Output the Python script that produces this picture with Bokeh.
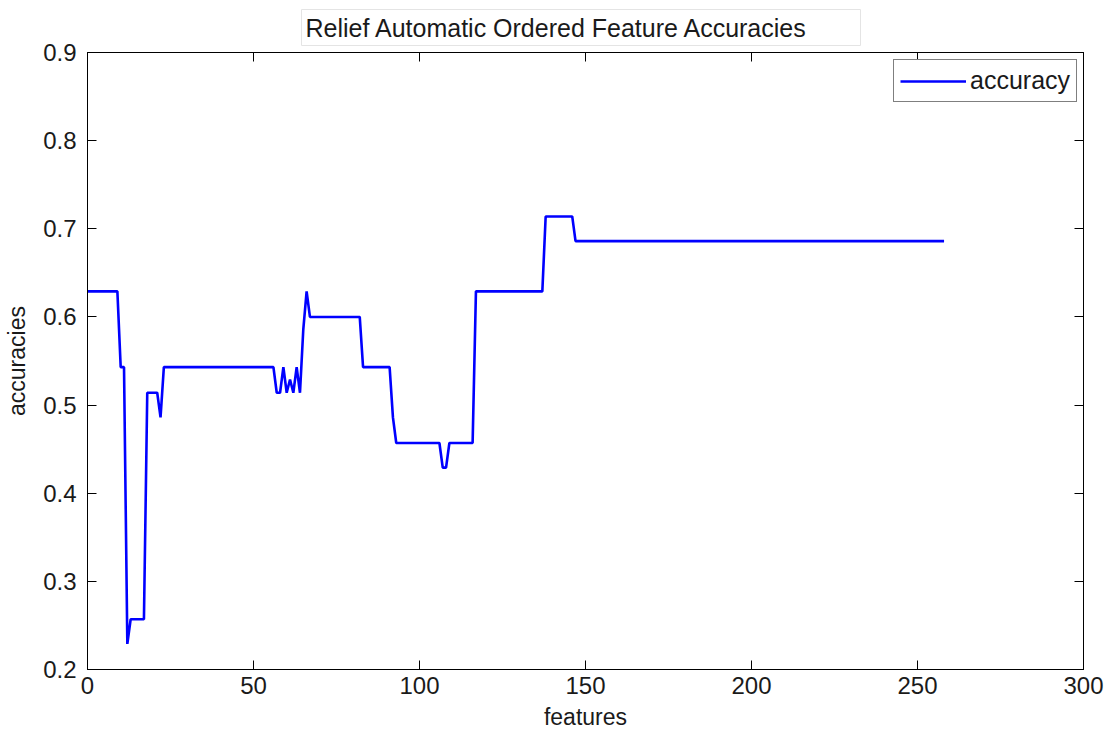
from bokeh.plotting import figure
from bokeh.models import LinearAxis, FixedTicker, Range1d, Legend, LegendItem
from bokeh.embed import file_html
from bokeh.resources import INLINE

# Data (polyline vertices)
features = [0, 9, 10, 11, 12, 13, 17, 18, 21, 22, 23, 56, 57, 58, 59, 60, 61, 62, 63, 64,
            65, 66, 67, 82, 83, 91, 92, 93, 106, 107, 108, 109, 116, 117, 137, 138, 146, 147, 258]
accuracy = [0.629, 0.629, 0.543, 0.543, 0.229, 0.257, 0.257, 0.514, 0.514, 0.486, 0.543, 0.543,
            0.514, 0.514, 0.543, 0.514, 0.529, 0.514, 0.543, 0.514, 0.586, 0.629, 0.6, 0.6,
            0.543, 0.543, 0.486, 0.457, 0.457, 0.429, 0.429, 0.457, 0.457, 0.629, 0.629,
            0.714, 0.714, 0.686, 0.686]
x_ticks = [0, 50, 100, 150, 200, 250, 300]
y_ticks = [0.2, 0.3, 0.4, 0.5, 0.6, 0.7, 0.8, 0.9]
y_tick_labels = {0.2: "0.2", 0.3: "0.3", 0.4: "0.4", 0.5: "0.5", 0.6: "0.6", 0.7: "0.7", 0.8: "0.8", 0.9: "0.9"}

FONT = "Liberation Sans"
TXT = "#1a1a1a"

p = figure(width=1107, height=734, output_backend="svg", toolbar_location=None,
           x_range=Range1d(0, 300), y_range=Range1d(0.2, 0.9),
           min_border_left=87, min_border_right=24, min_border_top=51, min_border_bottom=65)
p.background_fill_color = "white"
p.border_fill_color = "white"
p.outline_line_color = "black"
p.outline_line_width = 1
p.xgrid.visible = False
p.ygrid.visible = False

p.title.text = "Relief Automatic Ordered Feature Accuracies"
p.title.align = "left"
p.title.offset = 214
p.title.text_font = FONT
p.title.text_font_size = "25px"
p.title.text_font_style = "normal"
p.title.text_color = TXT
p.title.background_fill_color = "white"
p.title.border_line_color = "#e4e4e4"
p.title.padding = (4, 52, 4, 4)
p.title.standoff = 14

for ax in (p.xaxis[0], p.yaxis[0]):
    ax.major_tick_in = 9
    ax.major_tick_out = 0
    ax.minor_tick_line_color = None
    ax.axis_line_color = "black"
    ax.major_tick_line_color = "black"
    ax.major_label_text_font = FONT
    ax.major_label_text_font_size = "24px"
    ax.major_label_text_color = TXT
    ax.axis_label_text_font = FONT
    ax.axis_label_text_font_size = "23px"
    ax.axis_label_text_font_style = "normal"
    ax.axis_label_text_color = TXT

p.xaxis.ticker = FixedTicker(ticks=x_ticks)
p.yaxis.ticker = FixedTicker(ticks=y_ticks)
p.yaxis.major_label_overrides = y_tick_labels
p.xaxis.axis_label = "features"
p.yaxis.axis_label = "accuracies"
p.xaxis.major_label_standoff = 7
p.yaxis.major_label_standoff = 11
p.xaxis.axis_label_standoff = 7
p.yaxis.axis_label_standoff = 10

# mirrored ticks on right and top (no labels drawn)
right_ax = LinearAxis(ticker=FixedTicker(ticks=y_ticks), major_tick_in=9, major_tick_out=0,
                      minor_tick_line_color=None, axis_line_color="black",
                      major_label_text_color=None, major_label_text_font_size="0px",
                      major_label_standoff=0)
top_ax = LinearAxis(ticker=FixedTicker(ticks=x_ticks), major_tick_in=9, major_tick_out=0,
                    minor_tick_line_color=None, axis_line_color="black",
                    major_label_text_color=None, major_label_text_font_size="0px",
                    major_label_standoff=0)
p.add_layout(right_ax, "right")
p.add_layout(top_ax, "above")

r = p.line(features, accuracy, line_color="#0000ff", line_width=2.6)

legend = Legend(items=[LegendItem(label="accuracy", renderers=[r])],
                location=(806, 567))
legend.border_line_color = "black"
legend.border_line_width = 1
legend.background_fill_color = "white"
legend.background_fill_alpha = 1
legend.label_text_font = FONT
legend.label_text_font_size = "25px"
legend.label_text_color = TXT
legend.glyph_width = 66
legend.glyph_height = 20
legend.label_height = 20
legend.label_standoff = 4
legend.padding = 6
legend.margin = 0
p.add_layout(legend, "center")

open("out.html", "w").write(file_html(p, INLINE))
